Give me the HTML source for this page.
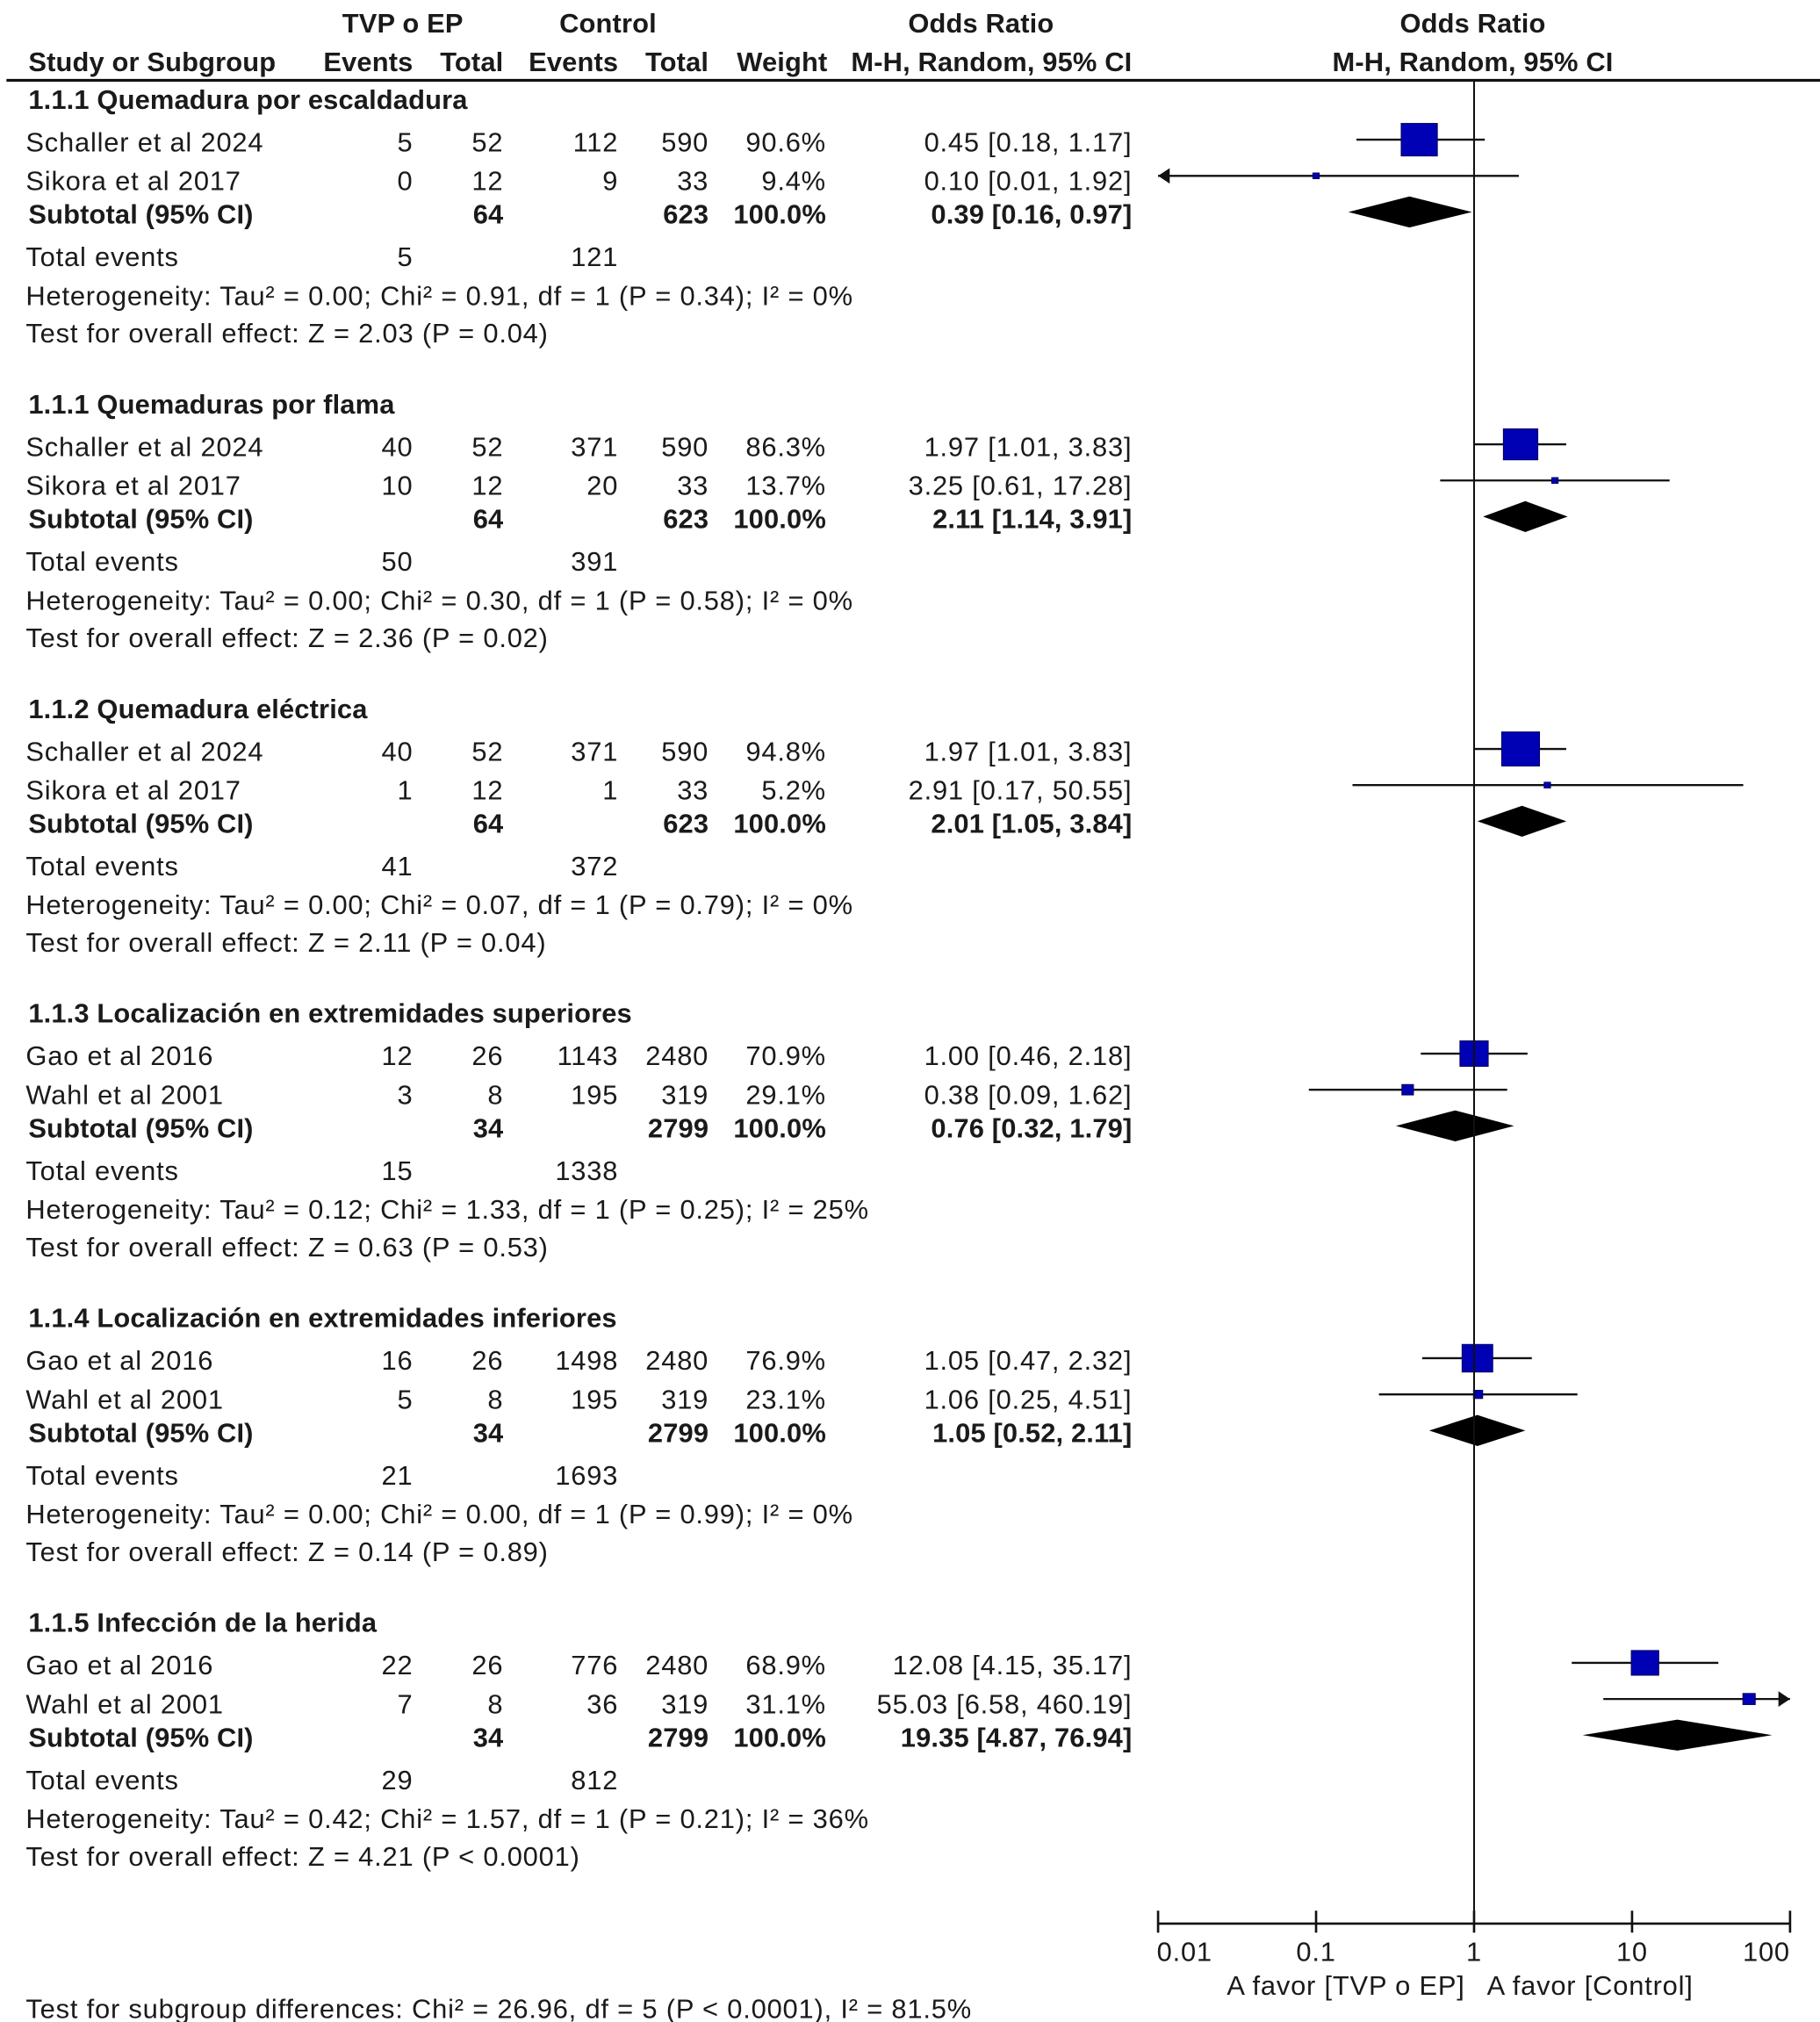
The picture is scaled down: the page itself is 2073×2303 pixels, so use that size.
<!DOCTYPE html>
<html><head><meta charset="utf-8"><style>
html,body{margin:0;padding:0;background:#fff;}
svg{display:block;}
text{font-family:"Liberation Sans",Arial,sans-serif;font-size:21px;letter-spacing:0.55px;fill:#1a1a1a;}
.b{font-weight:bold;letter-spacing:0.1px;}
</style></head><body>
<svg id="chart" width="2073" height="2303" viewBox="0 0 1410 1566" xmlns="http://www.w3.org/2000/svg">
<g id="hdr">
<text x="312" y="25" text-anchor="middle" class="b">TVP o EP</text>
<text x="471" y="25" text-anchor="middle" class="b">Control</text>
<text x="760" y="25" text-anchor="middle" class="b">Odds Ratio</text>
<text x="1141" y="25" text-anchor="middle" class="b">Odds Ratio</text>
<text x="22" y="55" class="b">Study or Subgroup</text>
<text x="320" y="55" text-anchor="end" class="b">Events</text>
<text x="390" y="55" text-anchor="end" class="b">Total</text>
<text x="479" y="55" text-anchor="end" class="b">Events</text>
<text x="549" y="55" text-anchor="end" class="b">Total</text>
<text x="641" y="55" text-anchor="end" class="b">Weight</text>
<text x="877" y="55" text-anchor="end" class="b">M-H, Random, 95% CI</text>
<text x="1141" y="55" text-anchor="middle" class="b">M-H, Random, 95% CI</text>
<line x1="5" y1="62" x2="1410" y2="62" stroke="#111" stroke-width="2.2"/>
</g>
<g id="body"></g>
<text x="20" y="1563">Test for subgroup differences: Chi² = 26.96, df = 5 (P &lt; 0.0001), I² = 81.5%</text>
</svg>
<script>
const groupTitles=["1.1.1 Quemadura por escaldadura","1.1.1 Quemaduras por flama","1.1.2 Quemadura eléctrica","1.1.3 Localización en extremidades superiores","1.1.4 Localización en extremidades inferiores","1.1.5 Infección de la herida"];
const studyNames=[["Schaller et al 2024","Sikora et al 2017"],["Schaller et al 2024","Sikora et al 2017"],["Schaller et al 2024","Sikora et al 2017"],["Gao et al 2016","Wahl et al 2001"],["Gao et al 2016","Wahl et al 2001"],["Gao et al 2016","Wahl et al 2001"]];
const tvpEvents=[[5,0],[40,10],[40,1],[12,3],[16,5],[22,7]];
const tvpTotal=[[52,12],[52,12],[52,12],[26,8],[26,8],[26,8]];
const ctrlEvents=[[112,9],[371,20],[371,1],[1143,195],[1498,195],[776,36]];
const ctrlTotal=[[590,33],[590,33],[590,33],[2480,319],[2480,319],[2480,319]];
const weights=[[90.6,9.4],[86.3,13.7],[94.8,5.2],[70.9,29.1],[76.9,23.1],[68.9,31.1]];
const orEst=[[0.45,0.10],[1.97,3.25],[1.97,2.91],[1.00,0.38],[1.05,1.06],[12.08,55.03]];
const orLo=[[0.18,0.01],[1.01,0.61],[1.01,0.17],[0.46,0.09],[0.47,0.25],[4.15,6.58]];
const orHi=[[1.17,1.92],[3.83,17.28],[3.83,50.55],[2.18,1.62],[2.32,4.51],[35.17,460.19]];
const subEst=[0.39,2.11,2.01,0.76,1.05,19.35];
const subLo=[0.16,1.14,1.05,0.32,0.52,4.87];
const subHi=[0.97,3.91,3.84,1.79,2.11,76.94];
const subTvpTotal=[64,64,64,34,34,34];
const subCtrlTotal=[623,623,623,2799,2799,2799];
const totTvp=[5,50,41,15,21,29];
const totCtrl=[121,391,372,1338,1693,812];
const hetText=["Tau² = 0.00; Chi² = 0.91, df = 1 (P = 0.34); I² = 0%","Tau² = 0.00; Chi² = 0.30, df = 1 (P = 0.58); I² = 0%","Tau² = 0.00; Chi² = 0.07, df = 1 (P = 0.79); I² = 0%","Tau² = 0.12; Chi² = 1.33, df = 1 (P = 0.25); I² = 25%","Tau² = 0.00; Chi² = 0.00, df = 1 (P = 0.99); I² = 0%","Tau² = 0.42; Chi² = 1.57, df = 1 (P = 0.21); I² = 36%"];
const testText=["Z = 2.03 (P = 0.04)","Z = 2.36 (P = 0.02)","Z = 2.11 (P = 0.04)","Z = 0.63 (P = 0.53)","Z = 0.14 (P = 0.89)","Z = 4.21 (P < 0.0001)"];
const tickValues=[0.01,0.1,1,10,100];
const tickLabels=["0.01","0.1","1","10","100"];

const NS="http://www.w3.org/2000/svg";
const body=document.getElementById('body');
const X0=1142,DEC=122.4,XMIN=0.01,XMAX=100;
function xs(v){return X0+Math.log10(v)*DEC;}
function mk(tag,attrs,parent){const e=document.createElementNS(NS,tag);for(const k in attrs)e.setAttribute(k,attrs[k]);(parent||body).appendChild(e);return e;}
function txt(x,y,s,anchor,bold,name){const t=mk('text',{x:x,y:y});if(anchor)t.setAttribute('text-anchor',anchor);if(bold)t.setAttribute('class','b');t.textContent=s;


return t;}
const f2=v=>v.toFixed(2);
groupTitles.forEach((g,gi)=>{
  const b=77+236*gi;
  txt(22,b+7,g,null,true,'group-title');
  studyNames[gi].forEach((s,si)=>{
    const y=b+40+30*si;
    txt(20,y,s,null,false,'study-name');
    txt(320,y,String(tvpEvents[gi][si]),'end',false,'tvp-events');
    txt(390,y,String(tvpTotal[gi][si]),'end',false,'tvp-total');
    txt(479,y,String(ctrlEvents[gi][si]),'end',false,'control-events');
    txt(549,y,String(ctrlTotal[gi][si]),'end',false,'control-total');
    txt(640,y,weights[gi][si].toFixed(1)+'%','end',false,'weight');
    txt(877,y,f2(orEst[gi][si])+' ['+f2(orLo[gi][si])+', '+f2(orHi[gi][si])+']','end',false,'odds-ratio-ci');
    const cy=b+31+28*si;
    const lo=orLo[gi][si],hi=orHi[gi][si];
    const x1=xs(Math.max(lo,XMIN)),x2=xs(Math.min(hi,XMAX));
    const ln=mk('line',{x1:x1,y1:cy,x2:x2,y2:cy,stroke:'#111','stroke-width':1.6});
    
    
    if(lo<=XMIN){const a=mk('polygon',{points:`${x1},${cy} ${x1+9},${cy-6} ${x1+9},${cy+6}`,fill:'#111'});
      
      }
    if(hi>=XMAX){const a=mk('polygon',{points:`${x2},${cy} ${x2-9},${cy-6} ${x2-9},${cy+6}`,fill:'#111'});
      
      }
    const sz=Math.max(5,31*weights[gi][si]/100);
    const r=mk('rect',{x:xs(orEst[gi][si])-sz/2,y:cy-sz*0.45,width:sz,height:sz*0.9,fill:'#0000b4',stroke:'#000050','stroke-width':0.6});
    
    
  });
  const sy=b+96;
  txt(22,sy,'Subtotal (95% CI)',null,true,'subtotal-label');
  txt(390,sy,String(subTvpTotal[gi]),'end',true,'subtotal-tvp-total');
  txt(549,sy,String(subCtrlTotal[gi]),'end',true,'subtotal-control-total');
  txt(640,sy,'100.0%','end',true,'subtotal-weight');
  txt(877,sy,f2(subEst[gi])+' ['+f2(subLo[gi])+', '+f2(subHi[gi])+']','end',true,'subtotal-or');
  const dy=b+87;
  const d=mk('polygon',{points:`${xs(subLo[gi])},${dy} ${xs(subEst[gi])},${dy-12} ${xs(Math.min(subHi[gi],XMAX))},${dy} ${xs(subEst[gi])},${dy+12}`,fill:'#000'});
  
  
  txt(20,b+129,'Total events',null,false,'total-events-label');
  txt(320,b+129,String(totTvp[gi]),'end',false,'total-events-tvp');
  txt(479,b+129,String(totCtrl[gi]),'end',false,'total-events-control');
  txt(20,b+159,'Heterogeneity: '+hetText[gi],null,false,'heterogeneity-text');
  txt(20,b+188,'Test for overall effect: '+testText[gi],null,false,'overall-effect-text');
});
const nl=mk('line',{x1:X0,y1:62,x2:X0,y2:1490,stroke:'#111','stroke-width':1.4});


const ax=mk('line',{x1:xs(XMIN),y1:1490,x2:xs(XMAX),y2:1490,stroke:'#111','stroke-width':1.8});


tickValues.forEach((v,i)=>{
  const t=mk('line',{x1:xs(v),y1:1480,x2:xs(v),y2:1497,stroke:'#111','stroke-width':1.8});
  
  
  const anchor=i===0?'start':(i===tickValues.length-1?'end':'middle');
  txt(xs(v)+(i===0?-1:0),1519,tickLabels[i],anchor,false,'x-tick-label');
});
txt(1135,1545,'A favor [TVP o EP]','end',false,'favor-tvp-label');
txt(1152,1545,'A favor [Control]',null,false,'favor-control-label');
</script>
</body></html>
